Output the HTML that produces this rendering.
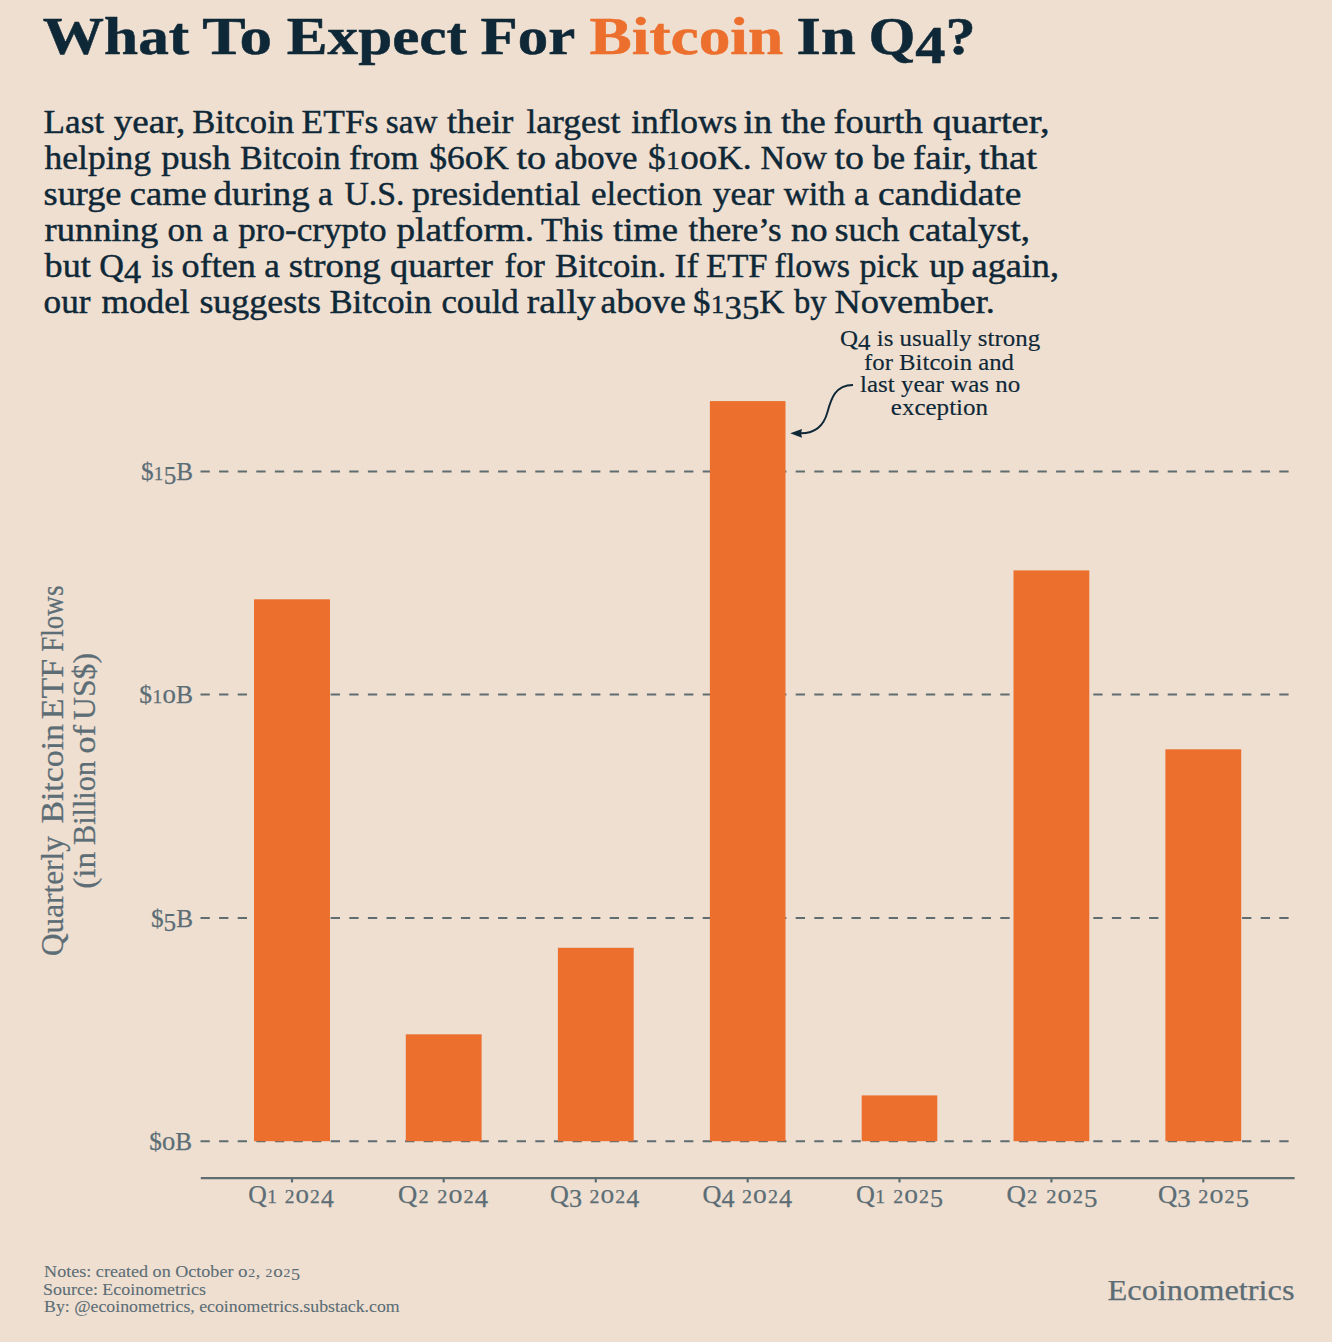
<!DOCTYPE html>
<html><head><meta charset="utf-8"><style>
html,body{margin:0;padding:0;background:#EEDFD1;}
body{width:1332px;height:1342px;overflow:hidden;}
svg{display:block;}
text{font-family:"Liberation Serif",serif;}
</style></head><body>
<svg width="1332" height="1342" viewBox="0 0 1332 1342">
<rect width="1332" height="1342" fill="#EEDFD1"/>
<line x1="200.5" y1="471.4" x2="1294" y2="471.4" stroke="#5F6C70" stroke-width="2" stroke-dasharray="9.3 9.3"/>
<line x1="200.5" y1="694.6" x2="1294" y2="694.6" stroke="#5F6C70" stroke-width="2" stroke-dasharray="9.3 9.3"/>
<line x1="200.5" y1="918.0" x2="1294" y2="918.0" stroke="#5F6C70" stroke-width="2" stroke-dasharray="9.3 9.3"/>
<line x1="200.5" y1="1141.2" x2="1294" y2="1141.2" stroke="#5F6C70" stroke-width="2" stroke-dasharray="9.3 9.3"/>
<rect x="254" y="599.3" width="76.00" height="541.90" fill="#EC6F2D"/>
<rect x="405.8" y="1034.3" width="75.80" height="106.90" fill="#EC6F2D"/>
<rect x="557.9" y="947.8" width="75.80" height="193.40" fill="#EC6F2D"/>
<rect x="709.9" y="401.1" width="75.60" height="740.10" fill="#EC6F2D"/>
<rect x="861.7" y="1095.4" width="75.60" height="45.80" fill="#EC6F2D"/>
<rect x="1013.5" y="570.4" width="75.80" height="570.80" fill="#EC6F2D"/>
<rect x="1165.4" y="749.3" width="75.80" height="391.90" fill="#EC6F2D"/>
<line x1="200.8" y1="1178.1" x2="1294.6" y2="1178.1" stroke="#5F6C70" stroke-width="2.2"/>
<line x1="292.00" y1="1178.1" x2="292.00" y2="1182.3999999999999" stroke="#5F6C70" stroke-width="2.2"/>
<line x1="443.70" y1="1178.1" x2="443.70" y2="1182.3999999999999" stroke="#5F6C70" stroke-width="2.2"/>
<line x1="595.80" y1="1178.1" x2="595.80" y2="1182.3999999999999" stroke="#5F6C70" stroke-width="2.2"/>
<line x1="747.70" y1="1178.1" x2="747.70" y2="1182.3999999999999" stroke="#5F6C70" stroke-width="2.2"/>
<line x1="899.50" y1="1178.1" x2="899.50" y2="1182.3999999999999" stroke="#5F6C70" stroke-width="2.2"/>
<line x1="1051.40" y1="1178.1" x2="1051.40" y2="1182.3999999999999" stroke="#5F6C70" stroke-width="2.2"/>
<line x1="1203.30" y1="1178.1" x2="1203.30" y2="1182.3999999999999" stroke="#5F6C70" stroke-width="2.2"/>
<path d="M853,385 C835,385 831,399 827.5,412 C824,425 816,433.3 801,433.3" fill="none" stroke="#0F2837" stroke-width="1.9"/>
<path d="M790.2,433.3 L802.0,428.9 L801.0,433.3 L802.0,437.7 Z" fill="#0F2837"/>
<text id="t_0" x="42.80" y="54.40" font-size="52.60" textLength="146.42" lengthAdjust="spacingAndGlyphs" font-weight="bold" fill="#0F2837" stroke="#0F2837" stroke-width="0.5">What</text>
<text id="t_1" x="202.20" y="54.40" font-size="52.60" textLength="69.94" lengthAdjust="spacingAndGlyphs" font-weight="bold" fill="#0F2837" stroke="#0F2837" stroke-width="0.5">To</text>
<text id="t_2" x="286.80" y="54.40" font-size="52.60" textLength="180.02" lengthAdjust="spacingAndGlyphs" font-weight="bold" fill="#0F2837" stroke="#0F2837" stroke-width="0.5">Expect</text>
<text id="t_3" x="480.60" y="54.40" font-size="52.60" textLength="94.64" lengthAdjust="spacingAndGlyphs" font-weight="bold" fill="#0F2837" stroke="#0F2837" stroke-width="0.5">For</text>
<text id="t_4" x="589.60" y="54.40" font-size="52.60" textLength="193.62" lengthAdjust="spacingAndGlyphs" font-weight="bold" fill="#EC6F2D" stroke="#EC6F2D" stroke-width="0.5">Bitcoin</text>
<text id="t_5" x="796.60" y="54.40" font-size="52.60" textLength="59.11" lengthAdjust="spacingAndGlyphs" font-weight="bold" fill="#0F2837" stroke="#0F2837" stroke-width="0.5">In</text>
<text id="t_6" x="868.40" y="54.40" font-size="52.60" textLength="107.33" lengthAdjust="spacingAndGlyphs" font-weight="bold" fill="#0F2837" stroke="#0F2837" stroke-width="0.5">Q<tspan baseline-shift="-8.68">4</tspan>?</text>
<text id="p0_0" x="43.60" y="133.00" font-size="34.30" textLength="60.49" lengthAdjust="spacingAndGlyphs" fill="#0F2837" stroke="#0F2837" stroke-width="0.45">Last</text>
<text id="p0_1" x="113.80" y="133.00" font-size="34.30" textLength="71.54" lengthAdjust="spacingAndGlyphs" fill="#0F2837" stroke="#0F2837" stroke-width="0.45">year,</text>
<text id="p0_2" x="192.20" y="133.00" font-size="34.30" textLength="101.86" lengthAdjust="spacingAndGlyphs" fill="#0F2837" stroke="#0F2837" stroke-width="0.45">Bitcoin</text>
<text id="p0_3" x="301.60" y="133.00" font-size="34.30" textLength="76.78" lengthAdjust="spacingAndGlyphs" fill="#0F2837" stroke="#0F2837" stroke-width="0.45">ETFs</text>
<text id="p0_4" x="385.80" y="133.00" font-size="34.30" textLength="51.67" lengthAdjust="spacingAndGlyphs" fill="#0F2837" stroke="#0F2837" stroke-width="0.45">saw</text>
<text id="p0_5" x="447.00" y="133.00" font-size="34.30" textLength="66.35" lengthAdjust="spacingAndGlyphs" fill="#0F2837" stroke="#0F2837" stroke-width="0.45">their</text>
<text id="p0_6" x="526.40" y="133.00" font-size="34.30" textLength="93.95" lengthAdjust="spacingAndGlyphs" fill="#0F2837" stroke="#0F2837" stroke-width="0.45">largest</text>
<text id="p0_7" x="631.20" y="133.00" font-size="34.30" textLength="106.22" lengthAdjust="spacingAndGlyphs" fill="#0F2837" stroke="#0F2837" stroke-width="0.45">inflows</text>
<text id="p0_8" x="743.60" y="133.00" font-size="34.30" textLength="28.58" lengthAdjust="spacingAndGlyphs" fill="#0F2837" stroke="#0F2837" stroke-width="0.45">in</text>
<text id="p0_9" x="781.00" y="133.00" font-size="34.30" textLength="44.60" lengthAdjust="spacingAndGlyphs" fill="#0F2837" stroke="#0F2837" stroke-width="0.45">the</text>
<text id="p0_10" x="833.40" y="133.00" font-size="34.30" textLength="89.28" lengthAdjust="spacingAndGlyphs" fill="#0F2837" stroke="#0F2837" stroke-width="0.45">fourth</text>
<text id="p0_11" x="932.40" y="133.00" font-size="34.30" textLength="117.27" lengthAdjust="spacingAndGlyphs" fill="#0F2837" stroke="#0F2837" stroke-width="0.45">quarter,</text>
<text id="p1_0" x="44.60" y="169.05" font-size="34.30" textLength="106.54" lengthAdjust="spacingAndGlyphs" fill="#0F2837" stroke="#0F2837" stroke-width="0.45">helping</text>
<text id="p1_1" x="161.20" y="169.05" font-size="34.30" textLength="69.44" lengthAdjust="spacingAndGlyphs" fill="#0F2837" stroke="#0F2837" stroke-width="0.45">push</text>
<text id="p1_2" x="240.00" y="169.05" font-size="34.30" textLength="100.44" lengthAdjust="spacingAndGlyphs" fill="#0F2837" stroke="#0F2837" stroke-width="0.45">Bitcoin</text>
<text id="p1_3" x="349.00" y="169.05" font-size="34.30" textLength="69.50" lengthAdjust="spacingAndGlyphs" fill="#0F2837" stroke="#0F2837" stroke-width="0.45">from</text>
<text id="p1_4" x="429.20" y="169.05" font-size="34.30" textLength="79.68" lengthAdjust="spacingAndGlyphs" fill="#0F2837" stroke="#0F2837" stroke-width="0.45">$6<tspan font-size="105%">o</tspan>K</text>
<text id="p1_5" x="516.50" y="169.05" font-size="34.30" textLength="29.67" lengthAdjust="spacingAndGlyphs" fill="#0F2837" stroke="#0F2837" stroke-width="0.45">to</text>
<text id="p1_6" x="554.50" y="169.05" font-size="34.30" textLength="83.06" lengthAdjust="spacingAndGlyphs" fill="#0F2837" stroke="#0F2837" stroke-width="0.45">above</text>
<text id="p1_7" x="648.00" y="169.05" font-size="34.30" textLength="103.64" lengthAdjust="spacingAndGlyphs" fill="#0F2837" stroke="#0F2837" stroke-width="0.45">$<tspan font-size="76%" dx="0.51" letter-spacing="0.51">1</tspan><tspan font-size="105%">o</tspan><tspan font-size="105%">o</tspan>K.</text>
<text id="p1_8" x="760.60" y="169.05" font-size="34.30" textLength="66.36" lengthAdjust="spacingAndGlyphs" fill="#0F2837" stroke="#0F2837" stroke-width="0.45">Now</text>
<text id="p1_9" x="834.40" y="169.05" font-size="34.30" textLength="29.42" lengthAdjust="spacingAndGlyphs" fill="#0F2837" stroke="#0F2837" stroke-width="0.45">to</text>
<text id="p1_10" x="872.50" y="169.05" font-size="34.30" textLength="32.58" lengthAdjust="spacingAndGlyphs" fill="#0F2837" stroke="#0F2837" stroke-width="0.45">be</text>
<text id="p1_11" x="913.00" y="169.05" font-size="34.30" textLength="59.20" lengthAdjust="spacingAndGlyphs" fill="#0F2837" stroke="#0F2837" stroke-width="0.45">fair,</text>
<text id="p1_12" x="979.00" y="169.05" font-size="34.30" textLength="58.02" lengthAdjust="spacingAndGlyphs" fill="#0F2837" stroke="#0F2837" stroke-width="0.45">that</text>
<text id="p2_0" x="43.60" y="205.10" font-size="34.30" textLength="77.83" lengthAdjust="spacingAndGlyphs" fill="#0F2837" stroke="#0F2837" stroke-width="0.45">surge</text>
<text id="p2_1" x="129.80" y="205.10" font-size="34.30" textLength="76.86" lengthAdjust="spacingAndGlyphs" fill="#0F2837" stroke="#0F2837" stroke-width="0.45">came</text>
<text id="p2_2" x="213.60" y="205.10" font-size="34.30" textLength="96.04" lengthAdjust="spacingAndGlyphs" fill="#0F2837" stroke="#0F2837" stroke-width="0.45">during</text>
<text id="p2_3" x="318.00" y="205.10" font-size="34.30" textLength="14.78" lengthAdjust="spacingAndGlyphs" fill="#0F2837" stroke="#0F2837" stroke-width="0.45">a</text>
<text id="p2_4" x="344.40" y="205.10" font-size="34.30" textLength="59.99" lengthAdjust="spacingAndGlyphs" fill="#0F2837" stroke="#0F2837" stroke-width="0.45">U.S.</text>
<text id="p2_5" x="412.00" y="205.10" font-size="34.30" textLength="168.24" lengthAdjust="spacingAndGlyphs" fill="#0F2837" stroke="#0F2837" stroke-width="0.45">presidential</text>
<text id="p2_6" x="591.00" y="205.10" font-size="34.30" textLength="111.04" lengthAdjust="spacingAndGlyphs" fill="#0F2837" stroke="#0F2837" stroke-width="0.45">election</text>
<text id="p2_7" x="712.80" y="205.10" font-size="34.30" textLength="61.26" lengthAdjust="spacingAndGlyphs" fill="#0F2837" stroke="#0F2837" stroke-width="0.45">year</text>
<text id="p2_8" x="783.80" y="205.10" font-size="34.30" textLength="61.45" lengthAdjust="spacingAndGlyphs" fill="#0F2837" stroke="#0F2837" stroke-width="0.45">with</text>
<text id="p2_9" x="854.00" y="205.10" font-size="34.30" textLength="14.86" lengthAdjust="spacingAndGlyphs" fill="#0F2837" stroke="#0F2837" stroke-width="0.45">a</text>
<text id="p2_10" x="878.00" y="205.10" font-size="34.30" textLength="143.31" lengthAdjust="spacingAndGlyphs" fill="#0F2837" stroke="#0F2837" stroke-width="0.45">candidate</text>
<text id="p3_0" x="44.60" y="241.15" font-size="34.30" textLength="113.75" lengthAdjust="spacingAndGlyphs" fill="#0F2837" stroke="#0F2837" stroke-width="0.45">running</text>
<text id="p3_1" x="167.60" y="241.15" font-size="34.30" textLength="35.13" lengthAdjust="spacingAndGlyphs" fill="#0F2837" stroke="#0F2837" stroke-width="0.45">on</text>
<text id="p3_2" x="212.20" y="241.15" font-size="34.30" textLength="16.07" lengthAdjust="spacingAndGlyphs" fill="#0F2837" stroke="#0F2837" stroke-width="0.45">a</text>
<text id="p3_3" x="238.20" y="241.15" font-size="34.30" textLength="148.33" lengthAdjust="spacingAndGlyphs" fill="#0F2837" stroke="#0F2837" stroke-width="0.45">pro-crypto</text>
<text id="p3_4" x="396.40" y="241.15" font-size="34.30" textLength="137.80" lengthAdjust="spacingAndGlyphs" fill="#0F2837" stroke="#0F2837" stroke-width="0.45">platform.</text>
<text id="p3_5" x="541.00" y="241.15" font-size="34.30" textLength="62.57" lengthAdjust="spacingAndGlyphs" fill="#0F2837" stroke="#0F2837" stroke-width="0.45">This</text>
<text id="p3_6" x="613.00" y="241.15" font-size="34.30" textLength="65.07" lengthAdjust="spacingAndGlyphs" fill="#0F2837" stroke="#0F2837" stroke-width="0.45">time</text>
<text id="p3_7" x="688.60" y="241.15" font-size="34.30" textLength="92.85" lengthAdjust="spacingAndGlyphs" fill="#0F2837" stroke="#0F2837" stroke-width="0.45">there’s</text>
<text id="p3_8" x="791.00" y="241.15" font-size="34.30" textLength="36.68" lengthAdjust="spacingAndGlyphs" fill="#0F2837" stroke="#0F2837" stroke-width="0.45">no</text>
<text id="p3_9" x="834.80" y="241.15" font-size="34.30" textLength="64.62" lengthAdjust="spacingAndGlyphs" fill="#0F2837" stroke="#0F2837" stroke-width="0.45">such</text>
<text id="p3_10" x="908.60" y="241.15" font-size="34.30" textLength="121.38" lengthAdjust="spacingAndGlyphs" fill="#0F2837" stroke="#0F2837" stroke-width="0.45">catalyst,</text>
<text id="p4_0" x="44.60" y="277.20" font-size="34.30" textLength="46.13" lengthAdjust="spacingAndGlyphs" fill="#0F2837" stroke="#0F2837" stroke-width="0.45">but</text>
<text id="p4_1" x="99.20" y="277.20" font-size="34.30" textLength="41.81" lengthAdjust="spacingAndGlyphs" fill="#0F2837" stroke="#0F2837" stroke-width="0.45">Q<tspan baseline-shift="-5.66">4</tspan></text>
<text id="p4_2" x="151.60" y="277.20" font-size="34.30" textLength="21.91" lengthAdjust="spacingAndGlyphs" fill="#0F2837" stroke="#0F2837" stroke-width="0.45">is</text>
<text id="p4_3" x="181.60" y="277.20" font-size="34.30" textLength="74.27" lengthAdjust="spacingAndGlyphs" fill="#0F2837" stroke="#0F2837" stroke-width="0.45">often</text>
<text id="p4_4" x="264.20" y="277.20" font-size="34.30" textLength="15.59" lengthAdjust="spacingAndGlyphs" fill="#0F2837" stroke="#0F2837" stroke-width="0.45">a</text>
<text id="p4_5" x="288.80" y="277.20" font-size="34.30" textLength="91.87" lengthAdjust="spacingAndGlyphs" fill="#0F2837" stroke="#0F2837" stroke-width="0.45">strong</text>
<text id="p4_6" x="390.00" y="277.20" font-size="34.30" textLength="102.98" lengthAdjust="spacingAndGlyphs" fill="#0F2837" stroke="#0F2837" stroke-width="0.45">quarter</text>
<text id="p4_7" x="504.40" y="277.20" font-size="34.30" textLength="40.49" lengthAdjust="spacingAndGlyphs" fill="#0F2837" stroke="#0F2837" stroke-width="0.45">for</text>
<text id="p4_8" x="555.00" y="277.20" font-size="34.30" textLength="111.08" lengthAdjust="spacingAndGlyphs" fill="#0F2837" stroke="#0F2837" stroke-width="0.45">Bitcoin.</text>
<text id="p4_9" x="674.50" y="277.20" font-size="34.30" textLength="24.08" lengthAdjust="spacingAndGlyphs" fill="#0F2837" stroke="#0F2837" stroke-width="0.45">If</text>
<text id="p4_10" x="706.00" y="277.20" font-size="34.30" textLength="61.57" lengthAdjust="spacingAndGlyphs" fill="#0F2837" stroke="#0F2837" stroke-width="0.45">ETF</text>
<text id="p4_11" x="774.60" y="277.20" font-size="34.30" textLength="75.48" lengthAdjust="spacingAndGlyphs" fill="#0F2837" stroke="#0F2837" stroke-width="0.45">flows</text>
<text id="p4_12" x="859.40" y="277.20" font-size="34.30" textLength="58.65" lengthAdjust="spacingAndGlyphs" fill="#0F2837" stroke="#0F2837" stroke-width="0.45">pick</text>
<text id="p4_13" x="929.20" y="277.20" font-size="34.30" textLength="35.28" lengthAdjust="spacingAndGlyphs" fill="#0F2837" stroke="#0F2837" stroke-width="0.45">up</text>
<text id="p4_14" x="971.60" y="277.20" font-size="34.30" textLength="87.37" lengthAdjust="spacingAndGlyphs" fill="#0F2837" stroke="#0F2837" stroke-width="0.45">again,</text>
<text id="p5_0" x="43.60" y="313.25" font-size="34.30" textLength="46.84" lengthAdjust="spacingAndGlyphs" fill="#0F2837" stroke="#0F2837" stroke-width="0.45">our</text>
<text id="p5_1" x="101.60" y="313.25" font-size="34.30" textLength="88.07" lengthAdjust="spacingAndGlyphs" fill="#0F2837" stroke="#0F2837" stroke-width="0.45">model</text>
<text id="p5_2" x="199.40" y="313.25" font-size="34.30" textLength="121.68" lengthAdjust="spacingAndGlyphs" fill="#0F2837" stroke="#0F2837" stroke-width="0.45">suggests</text>
<text id="p5_3" x="329.40" y="313.25" font-size="34.30" textLength="102.20" lengthAdjust="spacingAndGlyphs" fill="#0F2837" stroke="#0F2837" stroke-width="0.45">Bitcoin</text>
<text id="p5_4" x="441.40" y="313.25" font-size="34.30" textLength="77.33" lengthAdjust="spacingAndGlyphs" fill="#0F2837" stroke="#0F2837" stroke-width="0.45">could</text>
<text id="p5_5" x="526.80" y="313.25" font-size="34.30" textLength="68.86" lengthAdjust="spacingAndGlyphs" fill="#0F2837" stroke="#0F2837" stroke-width="0.45">rally</text>
<text id="p5_6" x="600.60" y="313.25" font-size="34.30" textLength="85.19" lengthAdjust="spacingAndGlyphs" fill="#0F2837" stroke="#0F2837" stroke-width="0.45">above</text>
<text id="p5_7" x="693.00" y="313.25" font-size="34.30" textLength="91.47" lengthAdjust="spacingAndGlyphs" fill="#0F2837" stroke="#0F2837" stroke-width="0.45">$<tspan font-size="76%" dx="0.51" letter-spacing="0.51">1</tspan><tspan baseline-shift="-5.66">35</tspan>K</text>
<text id="p5_8" x="794.00" y="313.25" font-size="34.30" textLength="32.56" lengthAdjust="spacingAndGlyphs" fill="#0F2837" stroke="#0F2837" stroke-width="0.45">by</text>
<text id="p5_9" x="834.40" y="313.25" font-size="34.30" textLength="160.57" lengthAdjust="spacingAndGlyphs" fill="#0F2837" stroke="#0F2837" stroke-width="0.45">November.</text>
<text id="a0" x="840.00" y="346.20" font-size="24.00" textLength="200.23" lengthAdjust="spacingAndGlyphs" fill="#0F2837" stroke="#0F2837" stroke-width="0.15">Q<tspan baseline-shift="-3.96">4</tspan> is usually strong</text>
<text id="a1" x="864.00" y="369.80" font-size="24.00" textLength="150.01" lengthAdjust="spacingAndGlyphs" fill="#0F2837" stroke="#0F2837" stroke-width="0.15">for Bitcoin and</text>
<text id="a2" x="860.00" y="392.20" font-size="24.00" textLength="160.25" lengthAdjust="spacingAndGlyphs" fill="#0F2837" stroke="#0F2837" stroke-width="0.15">last year was no</text>
<text id="a3" x="890.80" y="414.80" font-size="24.00" textLength="97.26" lengthAdjust="spacingAndGlyphs" fill="#0F2837" stroke="#0F2837" stroke-width="0.15">exception</text>
<text id="y0" x="140.90" y="479.80" font-size="25.40" textLength="52.23" lengthAdjust="spacingAndGlyphs" fill="#5C6D75" stroke="#5C6D75" stroke-width="0.25">$<tspan font-size="76%" dx="0.38" letter-spacing="0.38">1</tspan><tspan baseline-shift="-4.19">5</tspan>B</text>
<text id="y1" x="139.30" y="703.00" font-size="25.40" textLength="53.74" lengthAdjust="spacingAndGlyphs" fill="#5C6D75" stroke="#5C6D75" stroke-width="0.25">$<tspan font-size="76%" dx="0.38" letter-spacing="0.38">1</tspan><tspan font-size="105%">o</tspan>B</text>
<text id="y2" x="151.00" y="926.50" font-size="25.40" textLength="42.07" lengthAdjust="spacingAndGlyphs" fill="#5C6D75" stroke="#5C6D75" stroke-width="0.25">$<tspan baseline-shift="-4.19">5</tspan>B</text>
<text id="y3" x="149.30" y="1149.70" font-size="25.40" textLength="42.72" lengthAdjust="spacingAndGlyphs" fill="#5C6D75" stroke="#5C6D75" stroke-width="0.25">$<tspan font-size="105%">o</tspan>B</text>
<text id="x0" x="248.30" y="1202.80" font-size="25.70" textLength="85.44" lengthAdjust="spacingAndGlyphs" fill="#5C6D75" stroke="#5C6D75" stroke-width="0.25">Q<tspan font-size="76%" dx="0.39" letter-spacing="0.39">1</tspan> <tspan font-size="76%" dx="1.03" letter-spacing="1.03">2</tspan><tspan font-size="105%">o</tspan><tspan font-size="76%" dx="1.03" letter-spacing="1.03">2</tspan><tspan baseline-shift="-4.24">4</tspan></text>
<text id="x1" x="398.10" y="1202.80" font-size="25.70" textLength="90.06" lengthAdjust="spacingAndGlyphs" fill="#5C6D75" stroke="#5C6D75" stroke-width="0.25">Q<tspan font-size="76%" dx="1.03" letter-spacing="1.03">2</tspan> <tspan font-size="76%" dx="1.03" letter-spacing="1.03">2</tspan><tspan font-size="105%">o</tspan><tspan font-size="76%" dx="1.03" letter-spacing="1.03">2</tspan><tspan baseline-shift="-4.24">4</tspan></text>
<text id="x2" x="550.10" y="1202.80" font-size="25.70" textLength="89.19" lengthAdjust="spacingAndGlyphs" fill="#5C6D75" stroke="#5C6D75" stroke-width="0.25">Q<tspan baseline-shift="-4.24">3</tspan> <tspan font-size="76%" dx="1.03" letter-spacing="1.03">2</tspan><tspan font-size="105%">o</tspan><tspan font-size="76%" dx="1.03" letter-spacing="1.03">2</tspan><tspan baseline-shift="-4.24">4</tspan></text>
<text id="x3" x="702.50" y="1202.80" font-size="25.70" textLength="89.55" lengthAdjust="spacingAndGlyphs" fill="#5C6D75" stroke="#5C6D75" stroke-width="0.25">Q<tspan baseline-shift="-4.24">4</tspan> <tspan font-size="76%" dx="1.03" letter-spacing="1.03">2</tspan><tspan font-size="105%">o</tspan><tspan font-size="76%" dx="1.03" letter-spacing="1.03">2</tspan><tspan baseline-shift="-4.24">4</tspan></text>
<text id="x4" x="856.00" y="1202.80" font-size="25.70" textLength="87.05" lengthAdjust="spacingAndGlyphs" fill="#5C6D75" stroke="#5C6D75" stroke-width="0.25">Q<tspan font-size="76%" dx="0.39" letter-spacing="0.39">1</tspan> <tspan font-size="76%" dx="1.03" letter-spacing="1.03">2</tspan><tspan font-size="105%">o</tspan><tspan font-size="76%" dx="1.03" letter-spacing="1.03">2</tspan><tspan baseline-shift="-4.24">5</tspan></text>
<text id="x5" x="1006.50" y="1202.80" font-size="25.70" textLength="91.11" lengthAdjust="spacingAndGlyphs" fill="#5C6D75" stroke="#5C6D75" stroke-width="0.25">Q<tspan font-size="76%" dx="1.03" letter-spacing="1.03">2</tspan> <tspan font-size="76%" dx="1.03" letter-spacing="1.03">2</tspan><tspan font-size="105%">o</tspan><tspan font-size="76%" dx="1.03" letter-spacing="1.03">2</tspan><tspan baseline-shift="-4.24">5</tspan></text>
<text id="x6" x="1158.00" y="1202.80" font-size="25.70" textLength="91.05" lengthAdjust="spacingAndGlyphs" fill="#5C6D75" stroke="#5C6D75" stroke-width="0.25">Q<tspan baseline-shift="-4.24">3</tspan> <tspan font-size="76%" dx="1.03" letter-spacing="1.03">2</tspan><tspan font-size="105%">o</tspan><tspan font-size="76%" dx="1.03" letter-spacing="1.03">2</tspan><tspan baseline-shift="-4.24">5</tspan></text>
<text id="f0" x="44.10" y="1277.20" font-size="16.80" textLength="255.94" lengthAdjust="spacingAndGlyphs" fill="#5C6D75" stroke="#5C6D75" stroke-width="0.1">Notes: created on October <tspan font-size="105%">o</tspan><tspan font-size="76%" dx="0.67" letter-spacing="0.67">2</tspan>, <tspan font-size="76%" dx="0.67" letter-spacing="0.67">2</tspan><tspan font-size="105%">o</tspan><tspan font-size="76%" dx="0.67" letter-spacing="0.67">2</tspan><tspan baseline-shift="-2.77">5</tspan></text>
<text id="f1" x="43.10" y="1294.70" font-size="16.80" textLength="162.84" lengthAdjust="spacingAndGlyphs" fill="#5C6D75" stroke="#5C6D75" stroke-width="0.1">Source: Ecoinometrics</text>
<text id="f2" x="44.10" y="1312.20" font-size="16.80" textLength="355.52" lengthAdjust="spacingAndGlyphs" fill="#5C6D75" stroke="#5C6D75" stroke-width="0.1">By: @ecoinometrics, ecoinometrics.substack.com</text>
<text id="eco" x="1107.50" y="1300.00" font-size="30.20" textLength="187.09" lengthAdjust="spacingAndGlyphs" fill="#5C6D75" stroke="#5C6D75" stroke-width="0.25">Ecoinometrics</text>
<text id="yt0_0" x="63.40" y="956.00" font-size="31.50" textLength="119.81" lengthAdjust="spacingAndGlyphs" fill="#5C6D75" stroke="#5C6D75" stroke-width="0.25" transform="rotate(-90 63.40 956.00)">Quarterly</text>
<text id="yt0_1" x="63.40" y="823.60" font-size="31.50" textLength="99.63" lengthAdjust="spacingAndGlyphs" fill="#5C6D75" stroke="#5C6D75" stroke-width="0.25" transform="rotate(-90 63.40 823.60)">Bitcoin</text>
<text id="yt0_2" x="63.40" y="719.20" font-size="31.50" textLength="60.50" lengthAdjust="spacingAndGlyphs" fill="#5C6D75" stroke="#5C6D75" stroke-width="0.25" transform="rotate(-90 63.40 719.20)">ETF</text>
<text id="yt0_3" x="63.40" y="651.80" font-size="31.50" textLength="66.26" lengthAdjust="spacingAndGlyphs" fill="#5C6D75" stroke="#5C6D75" stroke-width="0.25" transform="rotate(-90 63.40 651.80)">Flows</text>
<text id="yt1_0" x="95.00" y="888.80" font-size="31.50" textLength="37.09" lengthAdjust="spacingAndGlyphs" fill="#5C6D75" stroke="#5C6D75" stroke-width="0.25" transform="rotate(-90 95.00 888.80)">(in</text>
<text id="yt1_1" x="95.00" y="845.00" font-size="31.50" textLength="84.03" lengthAdjust="spacingAndGlyphs" fill="#5C6D75" stroke="#5C6D75" stroke-width="0.25" transform="rotate(-90 95.00 845.00)">Billion</text>
<text id="yt1_2" x="95.00" y="753.40" font-size="31.50" textLength="28.43" lengthAdjust="spacingAndGlyphs" fill="#5C6D75" stroke="#5C6D75" stroke-width="0.25" transform="rotate(-90 95.00 753.40)">of</text>
<text id="yt1_3" x="95.00" y="720.00" font-size="31.50" textLength="67.07" lengthAdjust="spacingAndGlyphs" fill="#5C6D75" stroke="#5C6D75" stroke-width="0.25" transform="rotate(-90 95.00 720.00)">US$)</text>
</svg>
</body></html>
